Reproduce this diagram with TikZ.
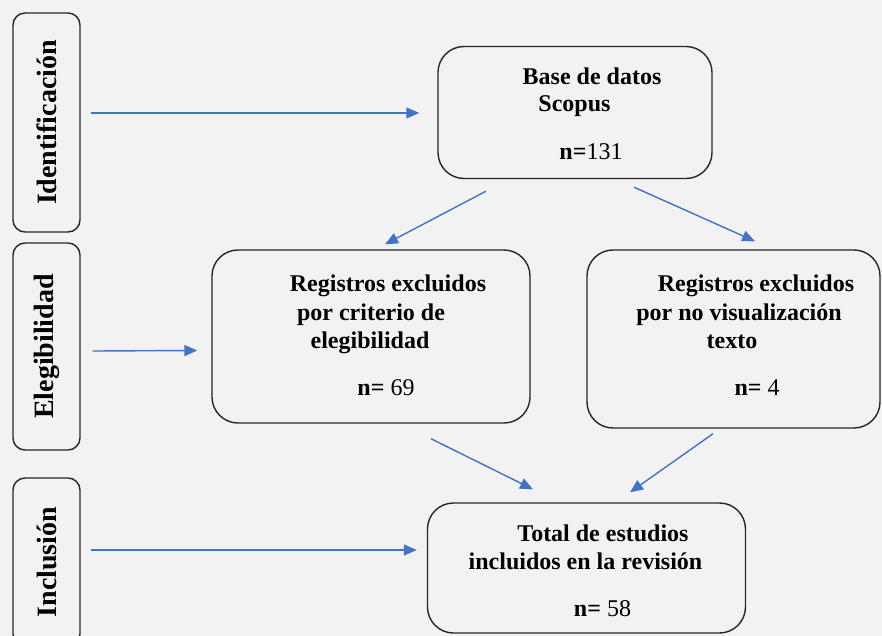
\documentclass[tikz,border=0pt]{standalone}
\usepackage{fontspec}
\setmainfont{Liberation Serif}
\usetikzlibrary{arrows.meta,calc}
\definecolor{bgcol}{HTML}{F2F2F2}
\definecolor{arrblue}{HTML}{4472C4}
\definecolor{boxline}{HTML}{262626}
\tikzset{
  stagebox/.style={draw=boxline, line width=1.4pt, rounded corners=12pt, rotate=90,
    inner sep=0pt, font=\fontsize{28}{32}\selectfont\bfseries},
  mainbox/.style={draw=boxline, line width=1.4pt, rounded corners=26pt, inner sep=0pt},
  txt/.style={inner sep=0pt, font=\fontsize{24}{28}\selectfont\bfseries, text height=16pt, text depth=5pt},
  arr/.style={draw=arrblue, line width=1.4pt, -{Triangle[length=13pt,width=11pt]}, fill=arrblue}
}
\begin{document}
\begin{tikzpicture}[x=1pt,y=-1pt]
\useasboundingbox (0,0) rectangle (882,636);
\fill[bgcol] (0,0) rectangle (882,636);

% stage boxes
\node[stagebox, minimum width=219pt, minimum height=67pt] (ident) at (46.5,122.5) {Identificación};
\node[stagebox, minimum width=207pt, minimum height=67pt] (elig) at (46.5,346.5) {Elegibilidad};
\node[stagebox, minimum width=168pt, minimum height=67pt] (incl) at (46.5,562) {Inclusión};

% main boxes
\node[mainbox, minimum width=274pt, minimum height=132pt] (base) at (575,112.5) {};
\node[mainbox, minimum width=318pt, minimum height=173pt] (left) at (371,336.5) {};
\node[mainbox, minimum width=293pt, minimum height=178pt] (right) at (733.5,339) {};
\node[mainbox, minimum width=318pt, minimum height=130pt] (total) at (586.5,568) {};

% texts
\node[txt] (b1) at (592,79.5) {Base de datos};
\node[txt] (b2) at (574.5,106.5) {Scopus};
\node[txt] (b3) at (591,154.5) {n=\mdseries 131};

\node[txt] (l1) at (388,285.5) {Registros excluidos};
\node[txt] (l2) at (371,314.5) {por criterio de};
\node[txt] (l3) at (370,342.5) {elegibilidad};
\node[txt] (l4) at (386,389.5) {n= \mdseries 69};

\node[txt] (r1) at (756,285.5) {Registros excluidos};
\node[txt] (r2) at (739,314.5) {por no visualización};
\node[txt] (r3) at (732,342.5) {texto};
\node[txt] (r4) at (757,389.5) {n= \mdseries 4};

\node[txt] (t1) at (603,535.5) {Total de estudios};
\node[txt] (t2) at (585.5,563.5) {incluidos en la revisión};
\node[txt] (t3) at (602.5,610.5) {n= \mdseries 58};

% connectors
\draw[arr] ($(ident.south)+(10,-9.5)$) -- ($(base.west)+(-18,0.5)$);
\draw[arr] ($(elig.south)+(12,4.5)$) -- ($(left.west)+(-14,14)$);
\draw[arr] ($(incl.south)+(10,-12)$) -- ($(total.west)+(-10,-18)$);

\draw[arr] ($(base.south)+(-89,12)$) -- ($(left.north)+(14,-5)$);
\draw[arr] ($(base.south)+(59,8)$) -- ($(right.north)+(21.5,-8)$);
\draw[arr] ($(left.south)+(60,15)$) -- ($(total.north)+(-53.5,-13)$);
\draw[arr] ($(right.south)+(-20.5,5)$) -- ($(total.north)+(43.5,-10)$);
\end{tikzpicture}
\end{document}
